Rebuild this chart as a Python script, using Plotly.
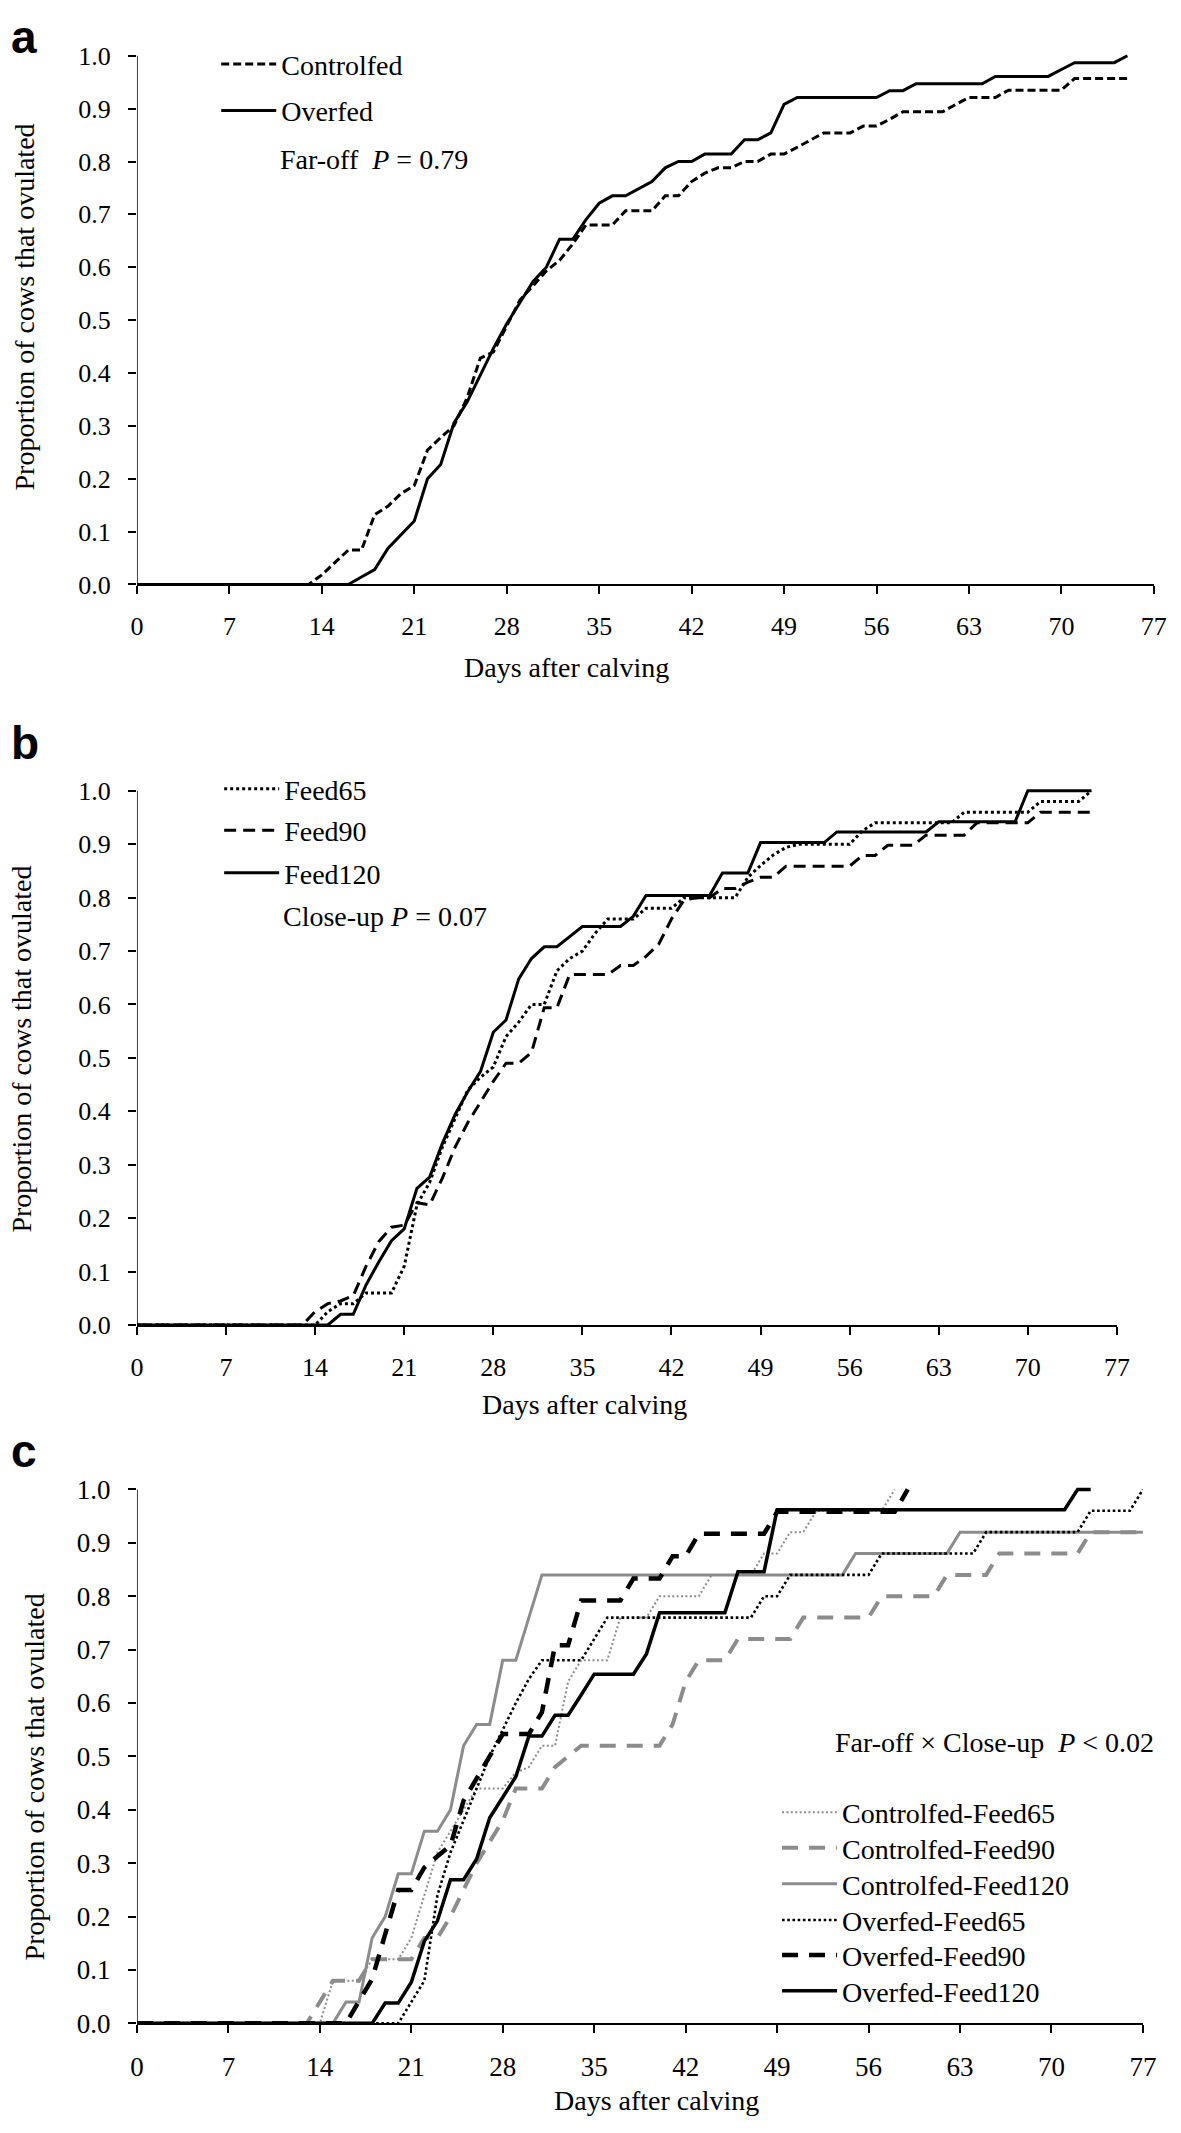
import plotly.graph_objects as go

W, H = 1181, 2133

# ---------------- data (proportion of cows ovulated by day after calving) ----------------
a_controlfed = [0,0,0,0,0,0,0,0,0,0,0,0,0,0,
                0.018,0.042,0.065,0.065,0.132,0.148,0.172,0.187,0.254,0.278,0.300,
                0.353,0.428,0.440,0.490,0.538,0.565,0.593,0.613,0.644,0.680,
                0.680,0.680,0.707,0.707,0.707,0.735,0.735,0.762,0.778,0.788,
                0.788,0.800,0.800,0.814,0.814,0.827,0.841,0.854,0.854,0.854,
                0.867,0.867,0.880,0.894,0.894,0.894,0.894,0.908,0.921,0.921,
                0.921,0.935,0.935,0.935,0.935,0.935,0.957,0.957,0.957,0.957,0.957]
a_overfed = [0,0,0,0,0,0,0,0,0,0,0,0,0,0,0,0,0,
             0.014,0.028,0.068,0.093,0.120,0.200,0.227,0.305,0.345,0.396,
             0.447,0.493,0.534,0.573,0.600,0.653,0.653,0.690,0.721,0.735,
             0.735,0.749,0.762,0.788,0.800,0.800,0.814,0.814,0.814,0.841,
             0.841,0.854,0.908,0.921,0.921,0.921,0.921,0.921,0.921,0.921,
             0.934,0.934,0.947,0.947,0.947,0.947,0.947,0.947,0.961,0.961,
             0.961,0.961,0.961,0.974,0.987,0.987,0.987,0.987,1.000]

b_feed65 = [0,0,0,0,0,0,0,0,0,0,0,0,0,0,0,
            0.025,0.040,0.040,0.060,0.060,0.060,0.110,0.225,0.267,0.333,
            0.387,0.440,0.464,0.483,0.540,0.567,0.600,0.600,0.663,0.686,
            0.700,0.733,0.760,0.760,0.760,0.780,0.780,0.780,0.800,0.800,
            0.800,0.800,0.800,0.838,0.860,0.880,0.894,0.900,0.900,0.900,
            0.900,0.900,0.925,0.940,0.940,0.940,0.940,0.940,0.940,0.940,
            0.960,0.960,0.960,0.960,0.960,0.960,0.980,0.980,0.980,0.980,1.000]
b_feed90 = [0,0,0,0,0,0,0,0,0,0,0,0,0,0,
            0.025,0.040,0.045,0.055,0.110,0.156,0.183,0.187,0.229,0.225,
            0.275,0.333,0.379,0.417,0.456,0.490,0.490,0.510,0.594,0.594,
            0.656,0.656,0.656,0.656,0.673,0.673,0.690,0.713,0.760,0.796,
            0.800,0.800,0.817,0.817,0.829,0.838,0.838,0.859,0.859,0.859,
            0.859,0.859,0.859,0.879,0.879,0.898,0.898,0.898,0.917,0.917,
            0.917,0.917,0.940,0.940,0.940,0.940,0.940,0.960,0.960,0.960,0.960,0.960]
b_feed120 = [0,0,0,0,0,0,0,0,0,0,0,0,0,0,0,0,
             0.020,0.020,0.075,0.118,0.158,0.180,0.256,0.277,0.340,0.394,
             0.437,0.475,0.548,0.571,0.648,0.686,0.708,0.708,0.727,0.746,
             0.746,0.746,0.746,0.765,0.804,0.804,0.804,0.804,0.804,0.804,
             0.846,0.846,0.846,0.903,0.903,0.903,0.903,0.903,0.903,0.923,
             0.923,0.923,0.923,0.923,0.923,0.923,0.923,0.942,0.942,0.942,
             0.942,0.942,0.942,0.942,1.000,1.000,1.000,1.000,1.000,1.000]

c_cf65 = [0,0,0,0,0,0,0,0,0,0,0,0,0,0,0,
          0.08,0.08,0.08,0.12,0.12,0.12,0.16,0.24,0.32,0.36,
          0.40,0.44,0.44,0.44,0.47,0.48,0.52,0.52,0.64,0.68,
          0.68,0.68,0.76,0.76,0.76,0.80,0.80,0.80,0.80,0.84,
          0.84,0.84,0.84,0.88,0.88,0.92,0.92,0.96,0.96,0.96,
          0.96,0.96,0.96,1.00]
c_cf90 = [0,0,0,0,0,0,0,0,0,0,0,0,0,0,
          0.04,0.08,0.08,0.08,0.12,0.12,0.12,0.12,0.16,0.16,
          0.20,0.25,0.30,0.34,0.38,0.44,0.44,0.44,0.48,0.50,
          0.52,0.52,0.52,0.52,0.52,0.52,0.52,0.56,0.64,0.68,
          0.68,0.68,0.72,0.72,0.72,0.72,0.72,0.76,0.76,0.76,
          0.76,0.76,0.76,0.80,0.80,0.80,0.80,0.80,0.84,0.84,
          0.84,0.84,0.88,0.88,0.88,0.88,0.88,0.88,0.88,0.92,0.92,0.92,0.92,0.92]
c_cf120 = [0,0,0,0,0,0,0,0,0,0,0,0,0,0,0,0,
           0.04,0.04,0.16,0.20,0.28,0.28,0.36,0.36,0.40,0.52,
           0.56,0.56,0.68,0.68,0.76,0.84,0.84,0.84,0.84,0.84,
           0.84,0.84,0.84,0.84,0.84,0.84,0.84,0.84,0.84,0.84,
           0.84,0.84,0.84,0.84,0.84,0.84,0.84,0.84,0.84,0.88,
           0.88,0.88,0.88,0.88,0.88,0.88,0.88,0.92,0.92,0.92,
           0.92,0.92,0.92,0.92,0.92,0.92,0.92,0.92,0.92,0.92,0.92,0.92]
c_of65 = [0,0,0,0,0,0,0,0,0,0,0,0,0,0,0,0,0,0,0,0,0,
          0.04,0.08,0.24,0.32,0.38,0.44,0.50,0.55,0.60,0.645,
          0.68,0.68,0.68,0.68,0.72,0.76,0.76,0.76,0.76,0.76,
          0.76,0.76,0.76,0.76,0.76,0.76,0.76,0.80,0.80,0.84,
          0.84,0.84,0.84,0.84,0.84,0.84,0.88,0.88,0.88,0.88,
          0.88,0.88,0.88,0.88,0.92,0.92,0.92,0.92,0.92,0.92,
          0.92,0.92,0.96,0.96,0.96,0.96,1.00]
c_of90 = [0,0,0,0,0,0,0,0,0,0,0,0,0,0,0,0,0,
          0.042,0.083,0.167,0.250,0.250,0.292,0.313,0.333,0.417,0.458,
          0.500,0.542,0.542,0.542,0.583,0.708,0.708,0.792,0.792,0.792,
          0.792,0.833,0.833,0.833,0.875,0.875,0.917,0.917,0.917,0.917,
          0.917,0.917,0.958,0.958,0.958,0.958,0.958,0.958,0.958,0.958,
          0.958,0.958,1.000]
c_of120 = [0,0,0,0,0,0,0,0,0,0,0,0,0,0,0,0,0,0,0,
           0.038,0.038,0.077,0.154,0.192,0.269,0.269,0.308,0.385,0.423,
           0.462,0.538,0.538,0.577,0.577,0.615,0.654,0.654,0.654,0.654,
           0.692,0.769,0.769,0.769,0.769,0.769,0.769,0.846,0.846,0.846,
           0.962,0.962,0.962,0.962,0.962,0.962,0.962,0.962,0.962,0.962,
           0.962,0.962,0.962,0.962,0.962,0.962,0.962,0.962,0.962,0.962,
           0.962,0.962,0.962,1.000,1.000]

x_ticks = [0, 7, 14, 21, 28, 35, 42, 49, 56, 63, 70, 77]
y_ticks = [0.0, 0.1, 0.2, 0.3, 0.4, 0.5, 0.6, 0.7, 0.8, 0.9, 1.0]

GRAY = "#8c8c8c"
SERIF = "Liberation Serif"
SANS = "Liberation Sans"

# ---------------- layout geometry (pixels) ----------------
panels = {
    "a": dict(x0=132.3, x1=1167.6, ytop=47.3, ybot=582.0, tick=26),
    "b": dict(x0=132.3, x1=1130.0, ytop=790.7, ybot=1331.0, tick=26),
    "c": dict(x0=132.3, x1=1156.5, ytop=1497.3, ybot=2037.3, tick=27),
}
YMAX = 1.01
ITEMW = 55


def fx(px):
    return px / W


def fy(px):
    return 1 - px / H


fig = go.Figure()

# panel, name, values, color, width, dash, legend text x, legend text cap-centre y
series = [
    ("a", "Controlfed", a_controlfed, "black", 3, "8px,4px", 278, 57),
    ("a", "Overfed", a_overfed, "black", 3, "solid", 278, 104),
    ("b", "Feed65", b_feed65, "black", 3, "3px,3px", 281, 790),
    ("b", "Feed90", b_feed90, "black", 3, "12px,7px", 281, 832),
    ("b", "Feed120", b_feed120, "black", 3, "solid", 281, 875),
    ("c", "Controlfed-Feed65", c_cf65, GRAY, 2, "2px,2.4px", 849, 1825),
    ("c", "Controlfed-Feed90", c_cf90, GRAY, 4, "16px,11px", 849, 1861),
    ("c", "Controlfed-Feed120", c_cf120, GRAY, 3, "solid", 849, 1897.5),
    ("c", "Overfed-Feed65", c_of65, "black", 2.6, "2.6px,2.6px", 849, 1934),
    ("c", "Overfed-Feed90", c_of90, "black", 4.5, "16px,11px", 849, 1969.5),
    ("c", "Overfed-Feed120", c_of120, "black", 3.5, "solid", 849, 2005.5),
]
axis_ids = {"a": ("x", "y"), "b": ("x2", "y2"), "c": ("x3", "y3")}

legend_font = dict(family=SERIF, size=28, color="black")
legends = {}
for i, (panel, name, vals, color, width, dash, tx, ty) in enumerate(series):
    xa, ya = axis_ids[panel]
    leg = "legend" if i == 0 else "legend%d" % (i + 1)
    fig.add_trace(go.Scatter(
        x=list(range(len(vals))), y=vals, mode="lines", name=name,
        line=dict(color=color, width=width, dash=dash),
        xaxis=xa, yaxis=ya, legend=leg, hoverinfo="skip",
    ))
    legends[leg] = dict(
        x=fx(tx - ITEMW - 10), y=fy(ty - 26.3), xanchor="left", yanchor="top",
        font=legend_font, bgcolor="rgba(0,0,0,0)", borderwidth=0,
        itemwidth=ITEMW, tracegroupgap=0,
    )

layout_axes = {}
shapes = []
for i, key in enumerate(["a", "b", "c"]):
    p = panels[key]
    h = p["ybot"] - p["ytop"]
    top = p["ytop"] - (YMAX - 1.0) * h
    sfx = "" if i == 0 else str(i + 1)
    tf = dict(family=SERIF, size=p["tick"], color="black")
    layout_axes["xaxis" + sfx] = dict(
        domain=[fx(p["x0"]), fx(p["x1"])], range=[0, 77],
        anchor="y" + sfx, tickvals=x_ticks, ticks="outside", ticklen=8,
        tickwidth=1.5, tickcolor="black", showline=True, linecolor="black",
        linewidth=1.5, showgrid=False, zeroline=False, tickfont=tf,
        ticklabelstandoff=10,
    )
    layout_axes["yaxis" + sfx] = dict(
        domain=[fy(p["ybot"]), fy(top)], range=[0, YMAX],
        anchor="x" + sfx, tickvals=y_ticks, tickformat=".1f", ticks="outside",
        ticklen=8, tickwidth=1.5, tickcolor="black", showline=False,
        showgrid=False, zeroline=False, tickfont=tf, ticklabelstandoff=12,
    )
    # y-axis line from 0.0 to 1.0 (in the panel's own data units)
    shapes.append(dict(type="line", xref="x" + sfx, yref="y" + sfx,
                       x0=0, x1=0, y0=0, y1=1, layer="above",
                       line=dict(color="black", width=1.5)))

annotations = []


def text(x, y, s, size=28, family=SERIF, xanchor="left", angle=0, yanchor="middle"):
    annotations.append(dict(
        x=fx(x), y=fy(y), xref="paper", yref="paper", text=s, showarrow=False,
        xanchor=xanchor, yanchor=yanchor, textangle=angle,
        font=dict(family=family, size=size, color="black"),
    ))


# panel letters
text(2, 0, "<b>a</b>", size=46, family=SANS, yanchor="top")
text(2, 742, "<b>b</b>", size=46, family=SANS)
text(2, 1458, "<b>c</b>", size=46, family=SANS)

# statistics notes
text(276, 152, "Far-off\u00a0\u00a0<i>P</i> = 0.79")
text(279, 918, "Close-up <i>P</i> = 0.07")
text(1170, 1753, "Far-off \u00d7 Close-up\u00a0\u00a0<i>P</i> &lt; 0.02", xanchor="right")

# axis titles
for ycen, xt in ((301.7, 17.5), (1051.7, 15), (1788, 28)):
    text(xt, ycen, "Proportion of cows that ovulated", xanchor="center", angle=-90)
text(570, 666, "Days after calving", xanchor="center")
text(588, 1411, "Days after calving", xanchor="center")
text(661, 2115, "Days after calving", xanchor="center")

fig.update_layout(
    width=W, height=H, margin=dict(l=0, r=0, t=0, b=0),
    paper_bgcolor="white", plot_bgcolor="white",
    font=dict(family=SERIF, size=28, color="black"),
    annotations=annotations, shapes=shapes,
    showlegend=True,
    **legends,
    **layout_axes,
)

fig.write_html(
    "out.html",
    config={"displayModeBar": False},
    post_script="document.body.style.margin='0';document.body.style.overflow='hidden';",
)
